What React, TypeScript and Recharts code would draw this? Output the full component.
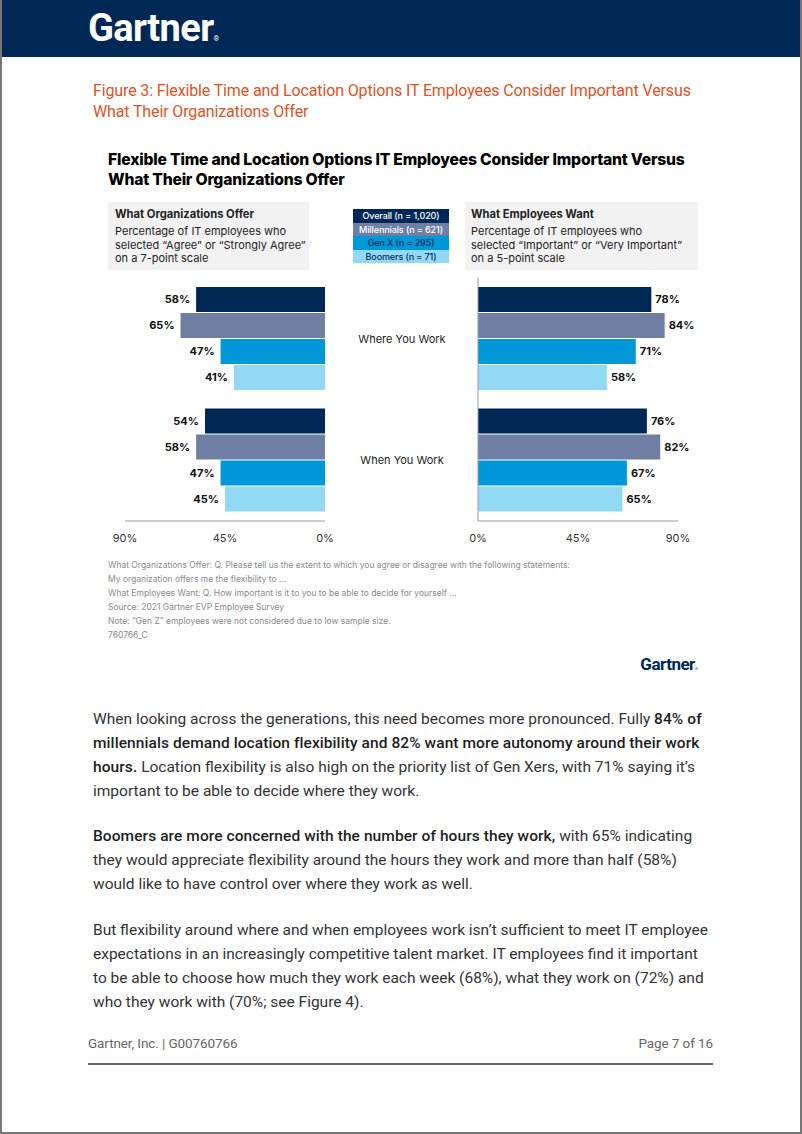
import React from "react";
import { BarChart, Bar, XAxis, YAxis, LabelList } from "recharts";

// chart data
const categories = ["Where You Work", "When You Work"];
const seriesKeys = ["overall", "millennials", "genX", "boomers"];
const seriesNames = [
  "Overall (n = 1,020)",
  "Millennials (n = 621)",
  "Gen X (n = 295)",
  "Boomers (n = 71)",
];
const seriesColors = ["#002856", "#6e7fa3", "#0098d8", "#92d9f6"];
const legendText = ["#ffffff", "#ffffff", "#0b2a55", "#0b2a55"];

const offerOverall = [58, 54];
const offerMillennials = [65, 58];
const offerGenX = [47, 47];
const offerBoomers = [41, 45];

const wantOverall = [78, 76];
const wantMillennials = [84, 82];
const wantGenX = [71, 67];
const wantBoomers = [58, 65];

const axisTicks = [0, 45, 90];

const offerData = categories.map((c, i) => ({
  category: c,
  overall: offerOverall[i],
  millennials: offerMillennials[i],
  genX: offerGenX[i],
  boomers: offerBoomers[i],
}));

const wantData = categories.map((c, i) => ({
  category: c,
  overall: wantOverall[i],
  millennials: wantMillennials[i],
  genX: wantGenX[i],
  boomers: wantBoomers[i],
}));

const chartFont = "Inter, 'Noto Sans', sans-serif";
const bodyFont = "Roboto, 'Noto Sans', sans-serif";
const axisColor = "#9b9b9b";

const LeftLabel = (props: any) => {
  const { x, y, width, height, value } = props;
  const left = Math.min(x, x + width);
  return (
    <text
      x={left - 6}
      y={y + height / 2}
      dy="0.35em"
      textAnchor="end"
      fontSize={11}
      fontWeight={700}
      fill="#111"
      fontFamily={chartFont}
    >
      {value}%
    </text>
  );
};

const RightLabel = (props: any) => {
  const { x, y, width, height, value } = props;
  const right = Math.max(x, x + width);
  return (
    <text
      x={right + 4}
      y={y + height / 2}
      dy="0.35em"
      textAnchor="start"
      fontSize={11}
      fontWeight={700}
      fill="#111"
      fontFamily={chartFont}
    >
      {value}%
    </text>
  );
};

const CategoryTick = (props: any) => {
  const { x, y, payload } = props;
  return (
    <text
      x={x - 76}
      y={y}
      dy="0.35em"
      textAnchor="middle"
      fontSize={11}
      fill="#222"
      fontFamily={chartFont}
    >
      {payload.value}
    </text>
  );
};

const tickStyle = { fontSize: 11, fill: "#333", fontFamily: chartFont };

function OfferChart() {
  return (
    <BarChart
      width={250}
      height={285}
      data={offerData}
      layout="vertical"
      margin={{ top: 8, right: 25, left: 25, bottom: 0 }}
      barCategoryGap={9}
      barGap={1}
    >
      <XAxis
        type="number"
        domain={[0, 90]}
        ticks={axisTicks}
        reversed
        height={34}
        tickLine={false}
        tickMargin={7}
        tickFormatter={(v: number) => v + "%"}
        tick={tickStyle}
        axisLine={{ stroke: axisColor }}
      />
      <YAxis
        type="category"
        dataKey="category"
        orientation="right"
        width={0}
        tick={false}
        tickLine={false}
        axisLine={{ stroke: axisColor }}
      />
      {seriesKeys.map((k, i) => (
        <Bar
          key={k}
          dataKey={k}
          name={seriesNames[i]}
          fill={seriesColors[i]}
          isAnimationActive={false}
        >
          <LabelList dataKey={k} content={LeftLabel} />
        </Bar>
      ))}
    </BarChart>
  );
}

function WantChart() {
  return (
    <BarChart
      width={370}
      height={285}
      data={wantData}
      layout="vertical"
      margin={{ top: 8, right: 22, left: 0, bottom: 0 }}
      barCategoryGap={9}
      barGap={1}
    >
      <XAxis
        type="number"
        domain={[0, 90]}
        ticks={axisTicks}
        height={34}
        tickLine={false}
        tickMargin={7}
        tickFormatter={(v: number) => v + "%"}
        tick={tickStyle}
        axisLine={{ stroke: axisColor }}
      />
      <YAxis
        type="category"
        dataKey="category"
        width={148}
        tickSize={0}
        tickMargin={0}
        tickLine={false}
        tick={CategoryTick}
        axisLine={{ stroke: axisColor }}
      />
      {seriesKeys.map((k, i) => (
        <Bar
          key={k}
          dataKey={k}
          name={seriesNames[i]}
          fill={seriesColors[i]}
          isAnimationActive={false}
        >
          <LabelList dataKey={k} content={RightLabel} />
        </Bar>
      ))}
    </BarChart>
  );
}

const abs = (left: number, top: number, extra: React.CSSProperties = {}): React.CSSProperties => ({
  position: "absolute",
  left,
  top,
  whiteSpace: "nowrap",
  ...extra,
});

const B = ({ children }: { children: React.ReactNode }) => (
  <span style={{ fontWeight: 500, color: "#1e1e1e", letterSpacing: 0.08 }}>{children}</span>
);

const footnotes = [
  "What Organizations Offer: Q. Please tell us the extent to which you agree or disagree with the following statements:",
  "My organization offers me the flexibility to ...",
  "What Employees Want: Q. How important is it to you to be able to decide for yourself ...",
  "Source: 2021 Gartner EVP Employee Survey",
  "Note: “Gen Z” employees were not considered due to low sample size.",
  "760766_C",
];

const bodyLine: React.CSSProperties = {
  fontFamily: bodyFont,
  fontSize: 15.5,
  lineHeight: "24px",
  color: "#333",
};

export default function App() {
  return (
    <div
      style={{
        position: "absolute",
        left: 0,
        top: 0,
        width: 802,
        height: 1134,
        background: "#fff",
        overflow: "hidden",
      }}
    >
      {/* header band */}
      <div style={abs(0, 0, { width: 802, height: 57, background: "#002856" })} />
      <div
        style={abs(88, 9, {
          fontFamily: bodyFont,
          fontWeight: 700,
          fontSize: 38,
          lineHeight: "38px",
          letterSpacing: -0.6,
          color: "#fff",
        })}
      >
        Gartner<span style={{ fontSize: 7, fontWeight: 400, letterSpacing: 0 }}>®</span>
      </div>

      {/* figure caption */}
      <div
        style={abs(93, 80, {
          fontFamily: bodyFont,
          fontSize: 16,
          lineHeight: "21px",
          letterSpacing: -0.13,
          color: "#e0531f",
        })}
      >
        <div>Figure 3: Flexible Time and Location Options IT Employees Consider Important Versus</div>
        <div>What Their Organizations Offer</div>
      </div>

      {/* chart title */}
      <div
        style={abs(108, 150, {
          fontFamily: chartFont,
          fontSize: 15.7,
          fontWeight: 800,
          lineHeight: "20px",
          letterSpacing: -0.2,
          color: "#000",
        })}
      >
        <div>Flexible Time and Location Options IT Employees Consider Important Versus</div>
        <div>What Their Organizations Offer</div>
      </div>

      {/* left info box */}
      <div
        style={abs(108, 202, {
          width: 201,
          height: 68,
          background: "#f2f2f2",
          fontFamily: chartFont,
          color: "#222",
        })}
      >
        <div style={{ position: "absolute", left: 7, top: 4, fontSize: 11.2, fontWeight: 700, lineHeight: "16px" }}>
          What Organizations Offer
        </div>
        <div style={{ position: "absolute", left: 7, top: 23, fontSize: 11, lineHeight: "13.5px" }}>
          <div>Percentage of IT employees who</div>
          <div>selected “Agree” or “Strongly Agree”</div>
          <div>on a 7-point scale</div>
        </div>
      </div>

      {/* right info box */}
      <div
        style={abs(465, 202, {
          width: 233,
          height: 68,
          background: "#f2f2f2",
          fontFamily: chartFont,
          color: "#222",
        })}
      >
        <div style={{ position: "absolute", left: 6, top: 4, fontSize: 11.2, fontWeight: 700, lineHeight: "16px" }}>
          What Employees Want
        </div>
        <div style={{ position: "absolute", left: 6, top: 23, fontSize: 11, lineHeight: "13.5px" }}>
          <div>Percentage of IT employees who</div>
          <div>selected “Important” or “Very Important”</div>
          <div>on a 5-point scale</div>
        </div>
      </div>

      {/* legend */}
      <div style={abs(353, 209, { width: 96 })}>
        {seriesNames.map((n, i) => (
          <div
            key={n}
            style={{
              height: 13.6,
              lineHeight: "13.6px",
              background: seriesColors[i],
              color: legendText[i],
              fontFamily: chartFont,
              fontSize: 9,
              fontWeight: 500,
              letterSpacing: -0.1,
              textAlign: "center",
            }}
          >
            {n}
          </div>
        ))}
      </div>

      {/* charts */}
      <div style={abs(100, 270)}>
        <OfferChart />
      </div>
      <div style={abs(330, 270)}>
        <WantChart />
      </div>

      {/* footnotes */}
      <div
        style={abs(108, 558, {
          fontFamily: chartFont,
          fontSize: 8.5,
          lineHeight: "14px",
          color: "#8a8a8a",
        })}
      >
        {footnotes.map((f) => (
          <div key={f}>{f}</div>
        ))}
      </div>

      <div
        style={abs(0, 654, {
          width: 698,
          textAlign: "right",
          fontFamily: bodyFont,
          fontWeight: 700,
          fontSize: 17,
          lineHeight: "20px",
          letterSpacing: -0.5,
          color: "#002856",
        })}
      >
        Gartner<span style={{ fontSize: 4, letterSpacing: 0 }}>®</span>
      </div>

      {/* body text */}
      <div style={abs(93, 707, bodyLine)}>
        <div>
          When looking across the generations, this need becomes more pronounced. Fully <B>84% of</B>
        </div>
        <div>
          <B>millennials demand location flexibility and 82% want more autonomy around their work</B>
        </div>
        <div>
          <B>hours.</B> Location flexibility is also high on the priority list of Gen Xers, with 71% saying it’s
        </div>
        <div>important to be able to decide where they work.</div>
      </div>

      <div style={abs(93, 824, bodyLine)}>
        <div>
          <B>Boomers are more concerned with the number of hours they work,</B> with 65% indicating
        </div>
        <div>they would appreciate flexibility around the hours they work and more than half (58%)</div>
        <div>would like to have control over where they work as well.</div>
      </div>

      <div style={abs(93, 918, bodyLine)}>
        <div>But flexibility around where and when employees work isn’t sufficient to meet IT employee</div>
        <div>expectations in an increasingly competitive talent market. IT employees find it important</div>
        <div>to be able to choose how much they work each week (68%), what they work on (72%) and</div>
        <div>who they work with (70%; see Figure 4).</div>
      </div>

      {/* footer */}
      <div
        style={abs(88, 1033, {
          fontFamily: bodyFont,
          fontSize: 13.5,
          lineHeight: "20px",
          letterSpacing: -0.1,
          color: "#666",
        })}
      >
        Gartner, Inc. | G00760766
      </div>
      <div
        style={abs(0, 1033, {
          width: 713,
          textAlign: "right",
          fontFamily: bodyFont,
          fontSize: 13.5,
          lineHeight: "20px",
          letterSpacing: -0.1,
          color: "#666",
        })}
      >
        Page 7 of 16
      </div>
      <div style={abs(88, 1063, { width: 625, height: 1.5, background: "#666" })} />

      {/* page frame */}
      <div
        style={abs(0, 0, {
          width: 802,
          height: 1134,
          boxSizing: "border-box",
          borderLeft: "2px solid #777",
          borderRight: "2px solid #777",
          borderBottom: "2px solid #777",
          pointerEvents: "none",
        })}
      />
    </div>
  );
}
